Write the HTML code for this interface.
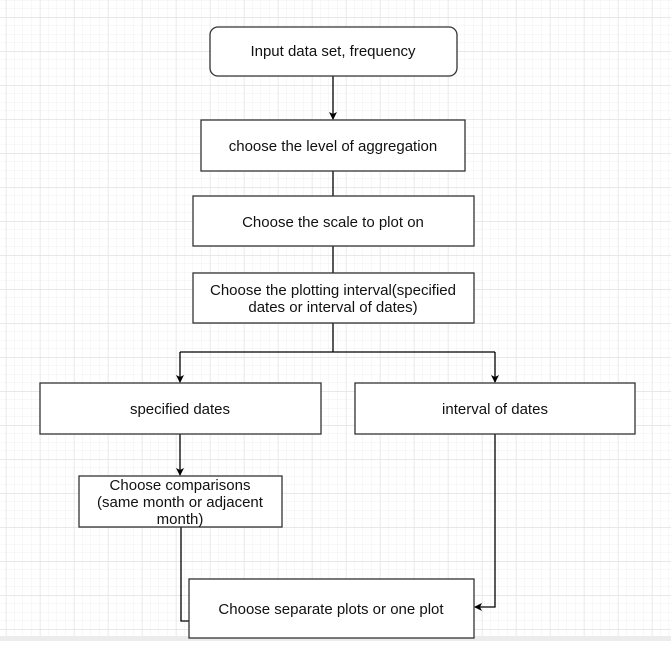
<!DOCTYPE html><html><head><style>body{margin:0;width:671px;height:641px;overflow:hidden;background:#fff}
text{font-family:"Liberation Sans",Arial,sans-serif;font-size:15px;fill:#111}</style></head><body>
<svg width="671" height="641" xmlns="http://www.w3.org/2000/svg">
<defs>
<pattern id="mn" width="8.5" height="8.5" patternUnits="userSpaceOnUse" x="6" y="0.5"><path d="M8.5 0V8.5M0 8.5H8.5" stroke="#f1f1f1" stroke-width="1" fill="none"/></pattern>
<pattern id="mj" width="34" height="34" patternUnits="userSpaceOnUse" x="6" y="17.5"><path d="M0 0V34M0 0H34" stroke="#e0e0e0" stroke-width="1" fill="none"/></pattern>
<marker id="a" markerWidth="8" markerHeight="8" refX="7" refY="4" orient="auto" markerUnits="userSpaceOnUse"><path d="M0 0L8 4L0 8L2 4z" fill="#000"/></marker>
</defs>
<rect width="671" height="641" fill="url(#mn)"/><rect width="671" height="641" fill="url(#mj)"/>
<rect x="0" y="636" width="671" height="5" fill="#ececec"/>
<g stroke="#000" stroke-width="1.3" fill="none">
<path d="M333 76V119" marker-end="url(#a)"/>
<path d="M333 171V196M333 246V273M333 323V352M180 352H495"/>
<path d="M180 352V382" marker-end="url(#a)"/><path d="M495 352V382" marker-end="url(#a)"/>
<path d="M180 434V475" marker-end="url(#a)"/>
<path d="M495 434V607H475" marker-end="url(#a)"/>
<path d="M181 527V621H189"/>
</g>
<g fill="#fff" stroke="#333" stroke-width="1.3">
<rect x="210" y="27" width="247" height="49" rx="8"/>
<rect x="201" y="120" width="264" height="51"/>
<rect x="193" y="196" width="281" height="50"/>
<rect x="193" y="273" width="281" height="50"/>
<rect x="40" y="383" width="281" height="51"/>
<rect x="355" y="383" width="280" height="51"/>
<rect x="79" y="476" width="203" height="51"/>
<rect x="189" y="579" width="285" height="59"/>
</g>
<g text-anchor="middle">
<text x="333" y="56">Input data set, frequency</text>
<text x="333" y="151">choose the level of aggregation</text>
<text x="333" y="227">Choose the scale to plot on</text>
<text x="333" y="295">Choose the plotting interval(specified</text>
<text x="333" y="312">dates or interval of dates)</text>
<text x="180" y="414">specified dates</text>
<text x="495" y="414">interval of dates</text>
<text x="180" y="490">Choose comparisons</text>
<text x="180" y="507">(same month or adjacent</text>
<text x="180" y="524">month)</text>
<text x="331" y="614">Choose separate plots or one plot</text>
</g>
</svg></body></html>
